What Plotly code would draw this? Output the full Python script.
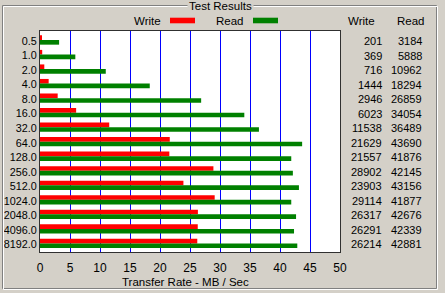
import plotly.graph_objects as go

# ---- data ----
block_sizes = ["0.5", "1.0", "2.0", "4.0", "8.0", "16.0", "32.0", "64.0",
               "128.0", "256.0", "512.0", "1024.0", "2048.0", "4096.0", "8192.0"]
write_kb = [201, 369, 716, 1444, 2946, 6023, 11538, 21629,
            21557, 28902, 23903, 29114, 26317, 26291, 26214]
read_kb = [3184, 5888, 10962, 18294, 26859, 34054, 36489, 43690,
           41876, 42145, 43156, 41877, 42676, 42339, 42881]
x_ticks = [0, 5, 10, 15, 20, 25, 30, 35, 40, 45, 50]

W, H = 445, 293
L, R, T, B = 40, 340, 31, 252
BG = "#d4d0c8"
FONT = "Liberation Sans, Arial, sans-serif"


def px(x):
    return (x - L) / (R - L)


def py(y):
    return (B - y) / (B - T)


ypos = list(range(len(block_sizes)))
write_mb = [v / 1000 for v in write_kb]
read_mb = [v / 1000 for v in read_kb]

fig = go.Figure()
fig.add_bar(y=ypos, x=write_mb, orientation="h", marker_color="#ff0000",
            marker_line_width=0, width=0.32, offset=-0.32, name="Write")
fig.add_bar(y=ypos, x=read_mb, orientation="h", marker_color="#008000",
            marker_line_width=0, width=0.32, offset=0, name="Read")

annotations = []
shapes = []

# group box (etched)
shapes.append(dict(type="rect", xref="paper", yref="paper",
                   x0=px(2.5), x1=px(436.5), y0=py(5.5), y1=py(288.5),
                   line=dict(color="#808080", width=1)))
shapes.append(dict(type="rect", xref="paper", yref="paper",
                   x0=px(3.5), x1=px(437.5), y0=py(6.5), y1=py(289.5),
                   line=dict(color="#ffffff", width=1)))
annotations.append(dict(text="Test Results", xref="paper", yref="paper",
                        x=px(220.5), y=py(6.5), xanchor="center", yanchor="middle",
                        showarrow=False, bgcolor=BG, borderpad=1,
                        font=dict(size=11.5, color="black", family=FONT)))

# legend
annotations.append(dict(text="Write", xref="paper", yref="paper",
                        x=px(163), y=py(21.5), xanchor="right", yanchor="middle",
                        showarrow=False, font=dict(size=11.5, color="black", family=FONT)))
shapes.append(dict(type="rect", xref="paper", yref="paper",
                   x0=px(170), x1=px(195), y0=py(23.3), y1=py(17.7),
                   fillcolor="#ff0000", line=dict(width=0)))
annotations.append(dict(text="Read", xref="paper", yref="paper",
                        x=px(246), y=py(21.5), xanchor="right", yanchor="middle",
                        showarrow=False, font=dict(size=11.5, color="black", family=FONT)))
shapes.append(dict(type="rect", xref="paper", yref="paper",
                   x0=px(253), x1=px(278), y0=py(23.3), y1=py(17.7),
                   fillcolor="#008000", line=dict(width=0)))

# table headers
annotations.append(dict(text="Write", xref="paper", yref="paper",
                        x=px(361.5), y=py(21.5), xanchor="center", yanchor="middle",
                        showarrow=False, font=dict(size=11.5, color="black", family=FONT)))
annotations.append(dict(text="Read", xref="paper", yref="paper",
                        x=px(410.5), y=py(21.5), xanchor="center", yanchor="middle",
                        showarrow=False, font=dict(size=11.5, color="black", family=FONT)))
# table values
for i, (w, r) in enumerate(zip(write_kb, read_kb)):
    annotations.append(dict(text=str(w), xref="paper", yref="y",
                            x=px(384), y=i + 0.07, xanchor="right", yanchor="middle",
                            showarrow=False, font=dict(size=11, color="black", family=FONT)))
    annotations.append(dict(text=str(r), xref="paper", yref="y",
                            x=px(424), y=i + 0.07, xanchor="right", yanchor="middle",
                            showarrow=False, font=dict(size=11, color="black", family=FONT)))

# x axis title
annotations.append(dict(text="Transfer Rate - MB / Sec", xref="paper", yref="paper",
                        x=px(185), y=py(281.5), xanchor="center", yanchor="middle",
                        showarrow=False, font=dict(size=11.5, color="black", family=FONT)))

fig.update_layout(
    width=W, height=H,
    margin=dict(l=L, r=W - R, t=T, b=H - B, pad=0, autoexpand=False),
    paper_bgcolor=BG, plot_bgcolor="white",
    barmode="overlay", showlegend=False,
    annotations=annotations, shapes=shapes,
    font=dict(family=FONT, size=11, color="black"),
)
fig.update_xaxes(range=[0, 50], tickvals=x_ticks, ticktext=[str(t) for t in x_ticks],
                 showgrid=True, gridcolor="#0000ff", gridwidth=1, zeroline=False,
                 showline=True, linecolor="#303030", linewidth=1, mirror=True,
                 ticks="outside", ticklen=5, tickcolor="rgba(0,0,0,0)",
                 tickfont=dict(size=12, color="black", family=FONT), fixedrange=True,
                 automargin=False)
fig.update_yaxes(range=[14.59, -0.62], tickvals=[i + 0.07 for i in ypos], ticktext=block_sizes,
                 showgrid=False, zeroline=False,
                 showline=True, linecolor="#303030", linewidth=1, mirror=True,
                 ticks="",
                 tickfont=dict(size=10.8, color="black", family=FONT), fixedrange=True,
                 automargin=False)

fig.write_html("out.html", config={"displayModeBar": False})
